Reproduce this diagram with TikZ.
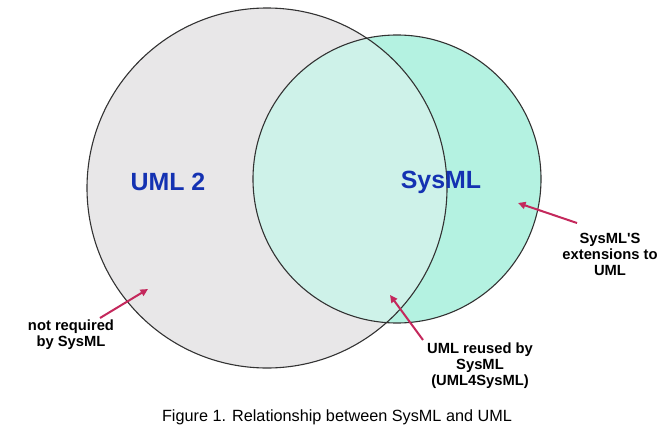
\documentclass[tikz,border=0pt]{standalone}
\usepackage{fontspec}
\setmainfont{Liberation Sans}
\definecolor{umlgrey}{RGB}{232,231,232}
\definecolor{sysaqua}{RGB}{180,242,225}
\definecolor{sysshared}{RGB}{206,242,233}
\definecolor{setblue}{RGB}{20,50,178}
\definecolor{pointred}{RGB}{196,40,92}
\usetikzlibrary{arrows.meta, positioning}

\begin{document}
\begin{tikzpicture}[x=1bp, y=1bp,
  setlabel/.style={font=\bfseries\fontsize{25}{30}\selectfont, text=setblue},
  note/.style={font=\bfseries\fontsize{14.8}{16}\selectfont, align=center},
  rim/.style={line width=1.1bp, black!80},
  pointer/.style={-{Triangle[length=7.5bp, width=7bp]}, line width=2bp, pointred}]
  \useasboundingbox (0,0) rectangle (658,432);

  % Sets
  \fill[umlgrey] (267,244) circle (180);
  \fill[sysaqua] (397,253) circle (144);
  \begin{scope}
    \clip (267,244) circle (180);
    \fill[sysshared] (397,253) circle (144);
  \end{scope}
  \draw[rim] (267,244) circle (180);
  \draw[rim] (397,253) circle (144);

  \node[setlabel] (uml) at (168,250) {UML 2};
  \node[setlabel] (sysml) at (441,250) {SysML};

  % Notes
  \node[note] (notreq) at (71,97) {not required\\by SysML};
  \node[note] (ext) at (610,178) {SysML\textquotesingle S\\extensions to\\UML};
  \node[note] (reused) at (480,66) {UML reused by\\SysML\\(UML4SysML)};

  \coordinate (t1) at (100,114);
  \coordinate (h1) at (148,143);
  \coordinate (t2) at (577,209);
  \coordinate (h2) at (518,229);
  \coordinate (t3) at (423,92);
  \coordinate (h3) at (390,137);
  \draw[pointer] (t1) -- (h1);
  \draw[pointer] (t2) -- (h2);
  \draw[pointer] (t3) -- (h3);

  \node (caption) at (337,15) {\fontsize{16.3}{19}\selectfont Figure 1. Relationship between SysML and UML};
\end{tikzpicture}
\end{document}
